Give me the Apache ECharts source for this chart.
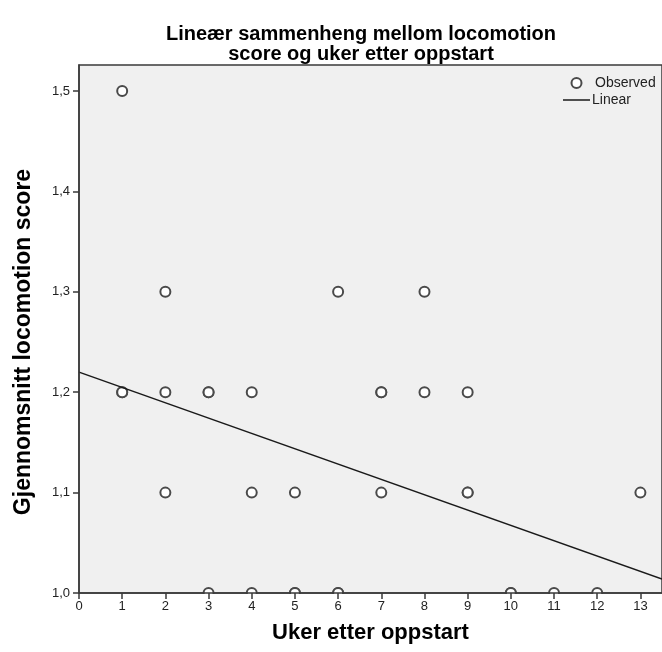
<!DOCTYPE html>
<html>
<head>
<meta charset="utf-8">
<script src="https://cdn.jsdelivr.net/npm/echarts@6/dist/echarts.min.js"></script>
<style>
  html, body { margin: 0; padding: 0; background: #ffffff; }
  #chart { width: 662px; height: 652px; }
</style>
</head>
<body>
<div id="chart"></div>
<script>
// Observed weekly means (weeks after start vs. mean locomotion score)
const obsWeeks  = [1, 1, 1, 2, 2, 2, 3, 3, 3, 4, 4, 4, 5, 5, 5, 6, 6, 6, 7, 7, 7, 8, 8, 9, 9, 9, 10, 10, 11, 12, 13];
const obsScores = [1.5, 1.2, 1.2, 1.3, 1.2, 1.1, 1.2, 1.2, 1.0, 1.2, 1.1, 1.0, 1.1, 1.0, 1.0, 1.3, 1.0, 1.0, 1.2, 1.2, 1.1, 1.3, 1.2, 1.2, 1.1, 1.1, 1.0, 1.0, 1.0, 1.0, 1.1];

// Fitted linear trend, endpoints at the ends of the x range
const fitWeeks  = [0, 13.5];
const fitScores = [1.220, 1.014];

// Tick positions
const xTicks = [0, 1, 2, 3, 4, 5, 6, 7, 8, 9, 10, 11, 12, 13];
const yTicks = [1.0, 1.1, 1.2, 1.3, 1.4, 1.5];

const FONT = '"Liberation Sans", Arial, sans-serif';
const AXIS_COLOR = '#3a3a3a';
const MARK_COLOR = '#4a4a4a';
const LINE_COLOR = '#1a1a1a';

const chart = echarts.init(document.getElementById('chart'), null, { renderer: 'canvas' });

const option = {
  animation: false,
  backgroundColor: '#ffffff',
  title: {
    text: 'Lineær sammenheng mellom locomotion\nscore og uker etter oppstart',
    left: 361,
    top: 24,
    padding: 0,
    textAlign: 'center',
    textStyle: {
      fontFamily: FONT,
      fontWeight: 'bold',
      fontSize: 20,
      lineHeight: 20,
      color: '#000000'
    }
  },
  legend: {
    orient: 'vertical',
    left: 563,
    top: 76,
    padding: 0,
    itemWidth: 27,
    itemHeight: 10,
    itemGap: 3,
    textStyle: { fontFamily: FONT, fontSize: 14, lineHeight: 14, color: '#222222' },
    data: [
      { name: 'Observed', icon: 'emptyCircle', itemStyle: { color: MARK_COLOR } },
      { name: 'Linear', icon: 'path://M0,0H27V1.5H0Z', itemStyle: { color: LINE_COLOR },
        textStyle: { padding: [0, 0, 0, -3] } }
    ]
  },
  grid: {
    left: 79,
    right: 0,
    top: 65,
    bottom: 59,
    show: true,
    backgroundColor: '#f0f0f0',
    borderColor: AXIS_COLOR,
    borderWidth: 1.5
  },
  xAxis: {
    type: 'value',
    min: 0,
    max: 13.5,
    interval: 1,
    z: 11,
    name: 'Uker etter oppstart',
    nameLocation: 'middle',
    nameGap: 29,
    nameTextStyle: { fontFamily: FONT, fontWeight: 'bold', fontSize: 22, color: '#000000' },
    axisLine: { show: true, onZero: false, lineStyle: { color: AXIS_COLOR, width: 1.5 } },
    axisTick: { show: true, length: 6, customValues: xTicks, lineStyle: { color: AXIS_COLOR, width: 1.5 } },
    axisLabel: {
      customValues: xTicks,
      margin: 7,
      fontFamily: FONT,
      fontSize: 13,
      color: '#222222'
    },
    splitLine: { show: false }
  },
  yAxis: {
    type: 'value',
    min: 1.0,
    max: 1.526,
    interval: 0.1,
    z: 11,
    name: 'Gjennomsnitt locomotion score',
    nameLocation: 'middle',
    nameGap: 44,
    nameTextStyle: {
      fontFamily: FONT, fontWeight: 'bold', fontSize: 23, color: '#000000',
      padding: [0, 26, 0, 0]
    },
    axisLine: { show: true, onZero: false, lineStyle: { color: AXIS_COLOR, width: 1.5 } },
    axisTick: { show: true, length: 6, customValues: yTicks, lineStyle: { color: AXIS_COLOR, width: 1.5 } },
    axisLabel: {
      customValues: yTicks,
      margin: 9,
      fontFamily: FONT,
      fontSize: 13,
      color: '#222222',
      formatter: v => v.toFixed(1).replace('.', ',')
    },
    splitLine: { show: false }
  },
  series: [
    {
      name: 'Observed',
      type: 'scatter',
      symbol: 'emptyCircle',
      symbolSize: 10,
      itemStyle: { color: MARK_COLOR, borderWidth: 1.2, opacity: 1 },
      data: obsWeeks.map((w, i) => [w, obsScores[i]]),
      z: 3
    },
    {
      name: 'Linear',
      type: 'line',
      symbol: 'none',
      itemStyle: { color: LINE_COLOR },
      lineStyle: { color: LINE_COLOR, width: 1.5 },
      data: fitWeeks.map((w, i) => [w, fitScores[i]]),
      z: 4
    }
  ]
};

chart.setOption(option);

// Keep markers inside the plotting area: mask the strip just below the x axis
// (axes are drawn above the mask, so ticks and labels stay visible).
const origin = chart.convertToPixel({ gridIndex: 0 }, [0, 1.0]);
const farRight = chart.convertToPixel({ gridIndex: 0 }, [13.5, 1.0]);
chart.setOption({
  graphic: [{
    type: 'rect',
    z: 10,
    silent: true,
    shape: { x: origin[0] + 1, y: origin[1] + 1, width: farRight[0] - origin[0], height: 7 },
    style: { fill: '#ffffff' }
  }]
});
</script>
</body>
</html>
